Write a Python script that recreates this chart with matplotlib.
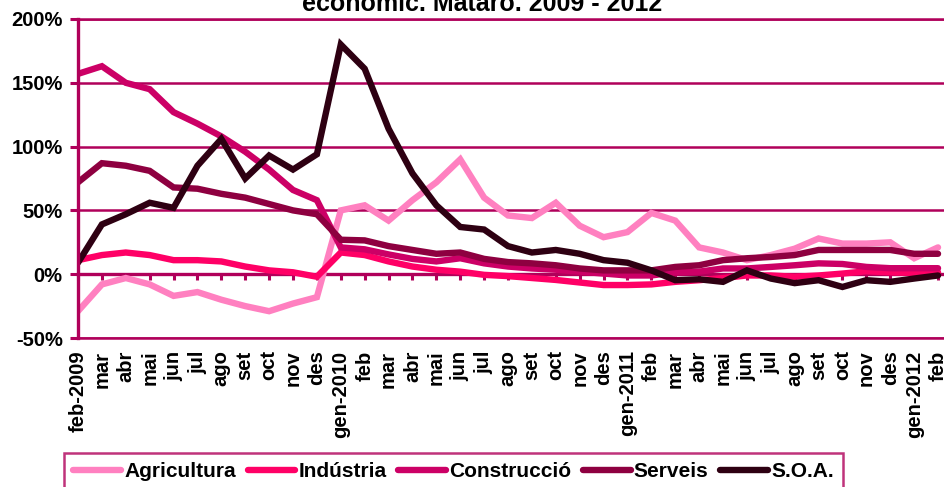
import numpy as np
import matplotlib
matplotlib.use('Agg')
import matplotlib.pyplot as plt

plt.rcParams['font.family'] = ['Liberation Sans', 'DejaVu Sans']
plt.rcParams['font.weight'] = 'bold'

# etiquetes de l'eix X (mensual, feb-2009 a feb-2012)
mesos = ['feb-2009', 'mar', 'abr', 'mai', 'jun', 'jul', 'ago', 'set', 'oct', 'nov', 'des',
         'gen-2010', 'feb', 'mar', 'abr', 'mai', 'jun', 'jul', 'ago', 'set', 'oct', 'nov', 'des',
         'gen-2011', 'feb', 'mar', 'abr', 'mai', 'jun', 'jul', 'ago', 'set', 'oct', 'nov', 'des',
         'gen-2012', 'feb']

# variació interanual (%) per sector
agricultura = [-29, -8, -3, -8, -17, -14, -20, -25, -29, -23, -18,
               50, 54, 42, 58, 72, 90, 60, 46, 44, 56, 38, 29,
               33, 48, 42, 21, 17, 11, 15, 20, 28, 24, 24, 25, 12.5, 21]
industria = [11, 15, 17, 15, 11, 11, 10, 6, 3, 1.5, -2,
             17, 15, 10, 6, 3.5, 2, -0.5, -1.5, -3, -4.5, -6.5, -8.5,
             -8.5, -8, -6, -4.7, -3, -1, -1, -2, -1, 0.5, 2.3, 1.5, 1, 1.5]
construccio = [157, 163, 150, 145, 127, 118, 108, 96, 82, 66, 58,
               21, 19.5, 15.5, 12, 10, 12.5, 8.5, 6, 4.5, 3.5, 2, 0.5,
               -1, -1, 1.5, 2, 4.5, 4.5, 5.7, 7, 8.5, 8, 5.7, 4.7, 4.7, 4.7]
serveis = [72, 87, 85, 81, 68, 67, 63, 60, 55, 50, 47,
           27, 26.5, 22, 19, 16, 17, 12, 9.5, 8.5, 7, 4.5, 3,
           3, 3, 5.7, 7, 11, 12.5, 13.5, 15, 19, 19, 19, 19, 16, 16]
soa = [9, 39, 47, 56, 52, 85, 106, 75, 93, 82, 94,
       180, 161, 114, 79, 54, 37, 35, 22, 17, 19, 16, 11,
       9, 3, -4.7, -4, -6, 3, -3.4, -7, -4.7, -10, -4.7, -6, -3.4, -1]

series = [('Agricultura', agricultura, '#FF80C0'),
          ('Indústria', industria, '#FF0066'),
          ('Construcció', construccio, '#CC0066'),
          ('Serveis', serveis, '#8E0040'),
          ('S.O.A.', soa, '#2E0012')]

eix = '#B0005A'
x = np.arange(len(mesos))

fig = plt.figure(figsize=(9.44, 4.87), dpi=100)
ax = fig.add_axes([78 / 944, 149 / 487, 1 - 78 / 944, 319 / 487])

for nom, vals, col in series:
    ax.plot(x, vals, color=col, lw=4.6, label=nom, solid_capstyle='round',
            solid_joinstyle='miter')

ax.set_xlim(0, 36.25)
ax.set_ylim(-50, 200)
ax.set_yticks(np.arange(-50, 201, 50))
ax.set_yticklabels([f'{v}%' for v in range(-50, 201, 50)], fontsize=14.5, fontweight='bold')
ax.yaxis.grid(True, color=eix, lw=1.8)
ax.set_axisbelow(True)

ax.set_xticks(x)
ax.set_xticklabels(mesos, rotation=90, fontsize=14.5, fontweight='bold')
ax.tick_params(axis='x', length=0, pad=9)
ax.tick_params(axis='y', length=6, width=2.2, color=eix, pad=5)

ax.spines['right'].set_visible(False)
ax.spines['left'].set_color(eix)
ax.spines['left'].set_linewidth(2.4)
for s in ['top', 'bottom']:
    ax.spines[s].set_color(eix)
    ax.spines[s].set_linewidth(1.8)

# línia del 0% amb les marques de categoria
sec = ax.secondary_xaxis(0.2)
sec.set_xticks(x)
sec.set_xticklabels([])
sec.tick_params(direction='out', length=4, width=2.2, color=eix)
sec.spines['bottom'].set_color(eix)
sec.spines['bottom'].set_linewidth(2.4)

fig.text(0.511, 0.977, 'econòmic. Mataró. 2009 - 2012', ha='center', va='baseline',
         fontsize=18, fontweight='bold')

leg = fig.legend(loc='upper left', bbox_to_anchor=(64 / 944, 34 / 487), ncol=5,
                 fontsize=15, frameon=True, fancybox=False, borderaxespad=0,
                 borderpad=0.45, handlelength=2.3, handletextpad=0.15, columnspacing=0.55)
leg.get_frame().set_edgecolor(eix)
leg.get_frame().set_linewidth(1.8)
for t in leg.get_texts():
    t.set_fontweight('bold')

fig.savefig('out.png', dpi=100)
